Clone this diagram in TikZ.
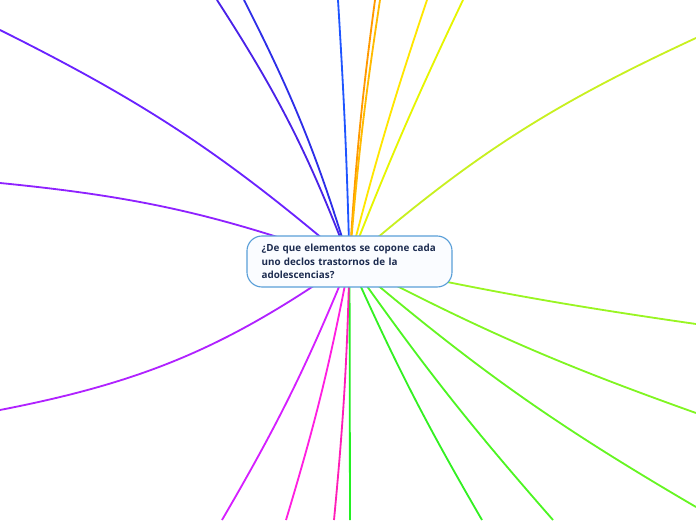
\documentclass[tikz,border=0pt]{standalone}
\usepackage{fontspec}
\setmainfont{Open Sans}
\usepackage{tikz}
\usetikzlibrary{backgrounds}
\definecolor{nodeline}{HTML}{5A9FD8}
\definecolor{nodefill}{HTML}{FAFCFF}
\definecolor{nodetext}{HTML}{1C2B4F}
\definecolor{br1}{HTML}{B022FF}
\definecolor{br2}{HTML}{8F22FF}
\definecolor{br3}{HTML}{6A22FF}
\definecolor{br4}{HTML}{4A22E8}
\definecolor{br5}{HTML}{2D2EE8}
\definecolor{br6}{HTML}{1F55FF}
\definecolor{br7}{HTML}{FF9900}
\definecolor{br8}{HTML}{FFBB00}
\definecolor{br9}{HTML}{FFE600}
\definecolor{br10}{HTML}{E6F500}
\definecolor{br11}{HTML}{C8F020}
\definecolor{br12}{HTML}{99F522}
\definecolor{br13}{HTML}{80F522}
\definecolor{br14}{HTML}{66F522}
\definecolor{br15}{HTML}{4CF522}
\definecolor{br16}{HTML}{33F022}
\definecolor{br17}{HTML}{22F022}
\definecolor{br18}{HTML}{FF1FB8}
\definecolor{br19}{HTML}{FF1FE0}
\definecolor{br20}{HTML}{D51FFF}

\begin{document}
\begin{tikzpicture}[x=0.025cm,y=0.025cm,
  main node/.style={draw=nodeline,line width=0.8pt,fill=nodefill,rounded corners=0.375cm,
    text width=4.5cm,inner xsep=0.3125cm,inner ysep=0pt,minimum height=1.275cm,align=left,
    font=\bfseries\fontsize{7}{9.6}\selectfont,text=nodetext},
  branch/.style={line width=1.3pt}]

\useasboundingbox (0,0) rectangle (696,520);

\node at (349.5,258.5) [main node] (root) {\hspace*{1.5pt}¿De que elementos se copone cada\\\hspace*{1.5pt}uno declos trastornos de la\\\hspace*{1.5pt}adolescencias?};

% free ends of the branches, clockwise from bottom left
\coordinate (b1) at (0,110);
\coordinate (b2) at (0,337);
\coordinate (b3) at (0,490);
\coordinate (b4) at (217,520);
\coordinate (b5) at (244,520);
\coordinate (b6) at (338,520);
\coordinate (b7) at (375,520);
\coordinate (b8) at (380,520);
\coordinate (b9) at (427,520);
\coordinate (b10) at (463,520);
\coordinate (b11) at (696,482);
\coordinate (b12) at (696,196);
\coordinate (b13) at (696,107);
\coordinate (b14) at (696,13);
\coordinate (b15) at (553,0);
\coordinate (b16) at (482,0);
\coordinate (b17) at (350,0);
\coordinate (b18) at (334,0);
\coordinate (b19) at (286,0);
\coordinate (b20) at (222,0);

\begin{pgfonlayer}{background}
\draw[branch,br1] (root.center) to[bend left=12] (b1);
\draw[branch,br2] (root.center) to[bend right=7] (b2);
\draw[branch,br3] (root.center) to[bend right=7] (b3);
\draw[branch,br4] (root.center) to[bend right=6] (b4);
\draw[branch,br5] (root.center) to[bend right=5] (b5);
\draw[branch,br6] (root.center) to[bend right=1] (b6);
\draw[branch,br7] (root.center) to[bend left=2] (b7);
\draw[branch,br8] (root.center) to[bend left=2] (b8);
\draw[branch,br9] (root.center) to[bend left=2] (b9);
\draw[branch,br10] (root.center) to[bend left=2] (b10);
\draw[branch,br11] (root.center) to[bend left=8] (b11);
\draw[branch,br12] (root.center) to[bend right=2] (b12);
\draw[branch,br13] (root.center) to[bend right=4] (b13);
\draw[branch,br14] (root.center) to[bend right=5] (b14);
\draw[branch,br15] (root.center) to[bend right=3] (b15);
\draw[branch,br16] (root.center) to[bend right=3] (b16);
\draw[branch,br17] (root.center) -- (b17);
\draw[branch,br18] (root.center) to[bend left=2] (b18);
\draw[branch,br19] (root.center) to[bend left=3] (b19);
\draw[branch,br20] (root.center) to[bend left=4] (b20);
\end{pgfonlayer}
\end{tikzpicture}
\end{document}
